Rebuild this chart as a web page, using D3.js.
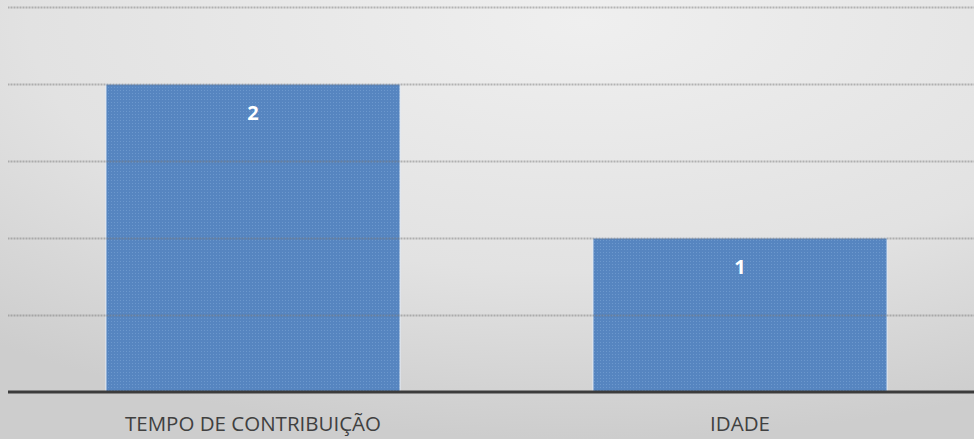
<!DOCTYPE html>
<html>
<head>
<meta charset="utf-8">
<script src="https://cdn.jsdelivr.net/npm/d3@7"></script>
<style>
  body { margin: 0; overflow: hidden; }
  svg { display: block; }
</style>
</head>
<body>
<svg id="chart"></svg>
<script>
const CATEGORIES = ["TEMPO DE CONTRIBUIÇÃO", "IDADE"];
const VALUES = [2, 1];
const Y_TICKS = [0.5, 1, 1.5, 2, 2.5];

const WIDTH = 974;
const HEIGHT = 439;
const LEFT = 8;
const BASE = 392;
const TOP = 7;

let svg = d3.select("#chart")
    .attr("width", WIDTH)
    .attr("height", HEIGHT);

let defs = svg.append("defs");

// soft grey background
let bg = defs.append("radialGradient")
    .attr("id", "bg")
    .attr("cx", "0.6").attr("cy", "0.05").attr("r", "0.95");
bg.append("stop").attr("offset", "0%").attr("stop-color", "#efefef");
bg.append("stop").attr("offset", "60%").attr("stop-color", "#e2e2e2");
bg.append("stop").attr("offset", "100%").attr("stop-color", "#cdcdcd");

// dotted texture for the bars
let pat = defs.append("pattern")
    .attr("id", "dots")
    .attr("width", 3).attr("height", 3)
    .attr("patternUnits", "userSpaceOnUse");
pat.append("rect").attr("width", 3).attr("height", 3).attr("fill", "#5685c0");
pat.append("rect").attr("width", 1).attr("height", 1).attr("fill", "#6c98cd");

svg.append("rect")
    .attr("width", WIDTH)
    .attr("height", HEIGHT)
    .attr("fill", "url(#bg)");

let x = d3.scaleBand()
    .domain(CATEGORIES)
    .range([9.5, 983.5])
    .paddingInner(0.396)
    .paddingOuter(0.198);

let y = d3.scaleLinear()
    .domain([0, 2.5])
    .range([BASE, TOP]);

svg.selectAll("rect.bar")
    .data(VALUES)
    .enter()
    .append("rect")
    .attr("class", "bar")
    .attr("x", function (d, i) { return x(CATEGORIES[i]); })
    .attr("y", function (d) { return y(d); })
    .attr("width", x.bandwidth())
    .attr("height", function (d) { return BASE - y(d); })
    .attr("fill", "url(#dots)")
    .attr("stroke", "#e8eef6")
    .attr("stroke-width", 1);

// gridlines drawn over the bars
let grid = svg.append("g")
    .call(d3.axisLeft(y)
        .tickValues(Y_TICKS)
        .tickSize(-(WIDTH - LEFT))
        .tickFormat(""))
    .attr("transform", "translate(" + LEFT + ",0)");
grid.select(".domain").remove();
grid.selectAll(".tick line")
    .attr("stroke", "#7a7a7a")
    .attr("stroke-opacity", 0.5)
    .attr("stroke-width", 2)
    .attr("stroke-dasharray", "1,0.5");

// base axis
svg.append("line")
    .attr("x1", LEFT).attr("x2", WIDTH)
    .attr("y1", BASE).attr("y2", BASE)
    .attr("stroke", "#3c3c3c")
    .attr("stroke-width", 3);

svg.selectAll("text.value")
    .data(VALUES)
    .enter()
    .append("text")
    .attr("class", "value")
    .attr("x", function (d, i) { return x(CATEGORIES[i]) + x.bandwidth() / 2; })
    .attr("y", function (d) { return y(d) + 36; })
    .attr("text-anchor", "middle")
    .attr("font-family", "Open Sans, sans-serif")
    .attr("font-weight", "bold")
    .attr("font-size", "20px")
    .attr("fill", "#ffffff")
    .text(function (d) { return d; });

svg.selectAll("text.cat")
    .data(CATEGORIES)
    .enter()
    .append("text")
    .attr("class", "cat")
    .attr("x", function (d) { return x(d) + x.bandwidth() / 2; })
    .attr("y", 431)
    .attr("text-anchor", "middle")
    .attr("font-family", "Open Sans, sans-serif")
    .attr("font-size", "20.5px")
    .attr("fill", "#404040")
    .text(function (d) { return d; });
</script>
</body>
</html>
